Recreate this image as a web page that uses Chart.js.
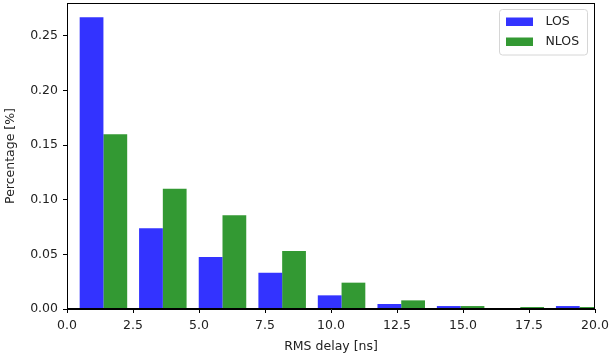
<!DOCTYPE html>
<html>
<head>
<meta charset="utf-8">
<script src="https://cdn.jsdelivr.net/npm/chart.js@4"></script>
<style>
  html, body { margin: 0; padding: 0; background: #fff; }
  #wrap { width: 610px; height: 356px; }
</style>
</head>
<body>
<div id="wrap"><canvas id="chartRms" width="610" height="356"></canvas></div>
<script>
// Histograma do RMS delay spread - LOS x NLOS

// bin centres [ns] and normalised counts
const binCenters = [1.38, 3.63, 5.89, 8.15, 10.40, 12.66, 14.91, 17.17, 19.42];
const losValues = [0.267, 0.0738, 0.0476, 0.0332, 0.0125, 0.0046, 0.0027, 0, 0.0027];
const nlosValues = [0.160, 0.110, 0.0857, 0.0531, 0.0241, 0.0079, 0.0027, 0.0018, 0.0018];

const xTicks = [0, 2.5, 5, 7.5, 10, 12.5, 15, 17.5, 20];
const yTicks = [0, 0.05, 0.10, 0.15, 0.20, 0.25];

const seriesLabels = ['LOS', 'NLOS'];
const seriesColors = ['rgba(0,0,255,0.8)', 'rgba(0,128,0,0.8)'];

const FONT = { family: '"DejaVu Sans", sans-serif', size: 12.5 };
const TEXT_COLOR = '#222';

// frame (all four spines) + matplotlib-like legend in the upper right
const framePlugin = {
    id: 'frameAndLegend',
    afterDraw(chart) {
        const ctx = chart.ctx;
        const a = chart.chartArea;
        ctx.save();
        ctx.strokeStyle = '#000';
        ctx.lineWidth = 1;
        ctx.strokeRect(Math.round(a.left) + 0.5, Math.round(a.top) + 0.5,
            Math.round(a.right - a.left) - 1, Math.round(a.bottom - a.top) - 1);

        // legend box
        const bx = a.right - 95.5, by = a.top + 6.5, bw = 88, bh = 45.5, r = 3;
        ctx.beginPath();
        ctx.moveTo(bx + r, by);
        ctx.arcTo(bx + bw, by, bx + bw, by + bh, r);
        ctx.arcTo(bx + bw, by + bh, bx, by + bh, r);
        ctx.arcTo(bx, by + bh, bx, by, r);
        ctx.arcTo(bx, by, bx + bw, by, r);
        ctx.closePath();
        ctx.fillStyle = 'rgba(255,255,255,0.8)';
        ctx.fill();
        ctx.strokeStyle = '#d6d6d6';
        ctx.stroke();

        ctx.font = FONT.size + 'px ' + FONT.family;
        ctx.textBaseline = 'middle';
        chart.data.datasets.forEach((ds, i) => {
            const rowY = by + 12 + i * 20;
            ctx.fillStyle = ds.backgroundColor;
            ctx.fillRect(bx + 6.5, rowY - 4, 27, 8.5);
            ctx.fillStyle = TEXT_COLOR;
            ctx.fillText(ds.label, bx + 46, rowY);
        });
        ctx.restore();
    }
};

// no extra room for the end tick labels: the frame sits where matplotlib puts it
function noEdgePadding(s) {
    s.paddingTop = 0;
    s.paddingBottom = 0;
    s.paddingLeft = 0;
    s.paddingRight = 0;
}

function renderChartRms() {
    const ctx = document.getElementById('chartRms').getContext('2d');

    const datasets = [losValues, nlosValues].map((vals, i) => ({
        label: seriesLabels[i],
        data: binCenters.map((x, k) => ({ x: x, y: vals[k] })),
        backgroundColor: seriesColors[i],
        borderWidth: 0,
        barPercentage: 1.0,
        categoryPercentage: 0.8,
        clip: 0
    }));

    new Chart(ctx, {
        type: 'bar',
        data: { datasets: datasets },
        options: {
            responsive: false,
            animation: false,
            layout: { padding: { left: 0, right: 15, top: 3, bottom: 0 } },
            plugins: {
                legend: { display: false },
                tooltip: { enabled: false }
            },
            scales: {
                x: {
                    type: 'linear',
                    min: 0,
                    max: 20,
                    offset: false,
                    afterBuildTicks: s => { s.ticks = xTicks.map(v => ({ value: v })); },
                    afterFit: s => { s.height = 47; noEdgePadding(s); },
                    ticks: {
                        callback: v => v.toFixed(1),
                        font: FONT,
                        color: TEXT_COLOR,
                        padding: 5,
                        maxRotation: 0,
                        autoSkip: false
                    },
                    grid: { offset: false, drawOnChartArea: false, tickLength: 4, color: '#000' },
                    border: { color: '#000' },
                    title: {
                        display: true,
                        text: 'RMS delay [ns]',
                        font: FONT,
                        color: TEXT_COLOR,
                        padding: { top: 0, bottom: 2 }
                    }
                },
                y: {
                    min: 0,
                    max: 0.28,
                    afterBuildTicks: s => { s.ticks = yTicks.map(v => ({ value: v })); },
                    afterFit: s => { s.width = 67; noEdgePadding(s); },
                    ticks: {
                        callback: v => v.toFixed(2),
                        font: FONT,
                        color: TEXT_COLOR,
                        padding: 5
                    },
                    grid: { offset: false, drawOnChartArea: false, tickLength: 4, color: '#000' },
                    border: { color: '#000' },
                    title: {
                        display: true,
                        text: 'Percentage [%]',
                        font: FONT,
                        color: TEXT_COLOR,
                        padding: { top: 3, bottom: 0 }
                    }
                }
            }
        },
        plugins: [framePlugin]
    });
}

renderChartRms();
</script>
</body>
</html>
